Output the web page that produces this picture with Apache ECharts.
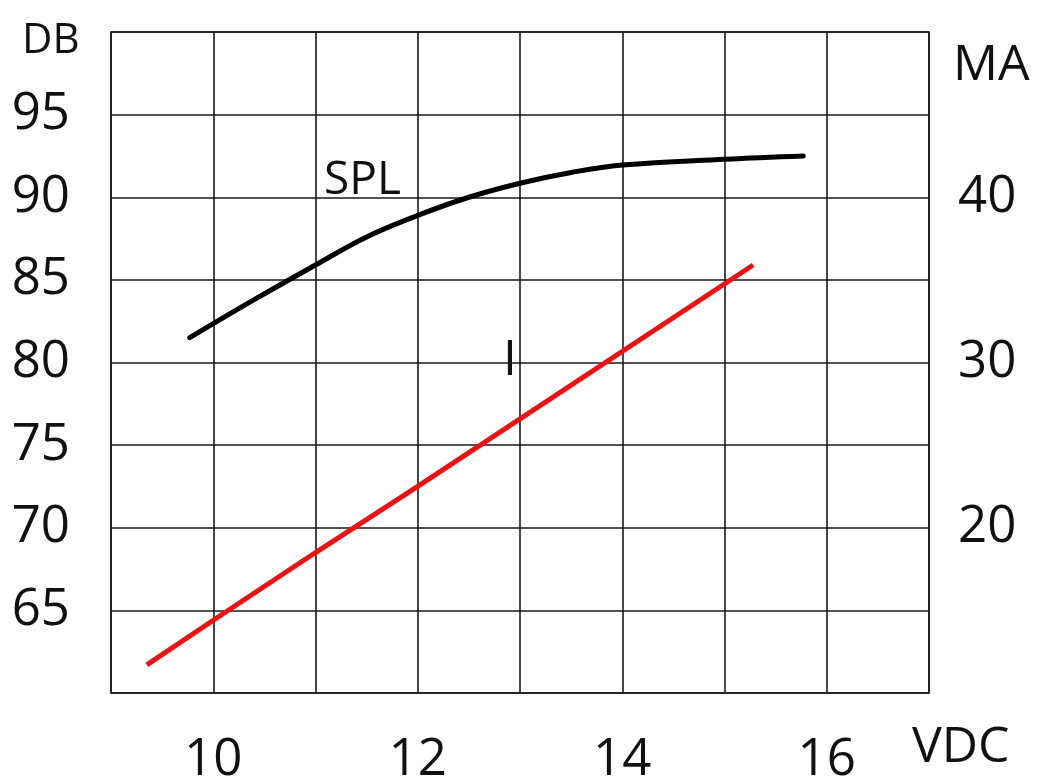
<!DOCTYPE html>
<html>
<head>
<meta charset="utf-8">
<script src="https://cdn.jsdelivr.net/npm/echarts@6/dist/echarts.min.js"></script>
<style>
html,body{margin:0;padding:0;background:#fff;}
#chart{width:1040px;height:778px;}
</style>
</head>
<body>
<div id="chart"></div>
<script>
// Voltage (VDC) vs SPL (dB)
const splVoltage = [9.77, 10.4, 11.0, 11.5, 12.0, 12.5, 13.0, 13.5, 14.0, 15.0, 15.77];
const splDb      = [81.5, 83.8, 85.9, 87.6, 88.9, 90.0, 90.85, 91.5, 91.95, 92.3, 92.5];
// Voltage (VDC) vs current (mA)
const curVoltage = [9.35, 10.0, 11.0, 12.0, 15.28];
const curMa      = [11.7, 14.4, 18.5, 22.5, 35.9];
// Tick labels shown
const xTickLabels = [10, 12, 14, 16];
const dbTickLabels = [65, 70, 75, 80, 85, 90, 95];
const maTickLabels = [20, 30, 40];
const axisTitles = { left: 'DB', right: 'MA', bottom: 'VDC' };
const seriesNames = { spl: 'SPL', cur: 'I' };

const FONT = 'Open Sans';
const chart = echarts.init(document.getElementById('chart'), null, {renderer: 'canvas'});
const gridLine = { show: true, lineStyle: { color: '#1a1a1a', width: 1.6 } };

chart.setOption({
  backgroundColor: '#ffffff',
  animation: false,
  grid: { left: 111, top: 32, width: 818, height: 661, outerBoundsMode: 'none', containLabel: false,
          show: true, borderColor: '#1a1a1a', borderWidth: 1.6, backgroundColor: 'transparent' },
  xAxis: {
    type: 'value', min: 9, max: 17, interval: 1,
    axisLine: { show: false }, axisTick: { show: false },
    splitLine: gridLine,
    axisLabel: {
      margin: 42, fontFamily: FONT, fontSize: 51, color: '#111',
      showMinLabel: true, showMaxLabel: true,
      formatter: v => xTickLabels.includes(v) ? String(v) : ''
    }
  },
  yAxis: [
    {
      type: 'value', min: 60, max: 100, interval: 5, position: 'left',
      axisLine: { show: false }, axisTick: { show: false },
      splitLine: gridLine,
      axisLabel: {
        margin: 41, fontFamily: FONT, fontSize: 51, color: '#111',
        formatter: v => dbTickLabels.includes(v) ? String(v) : ''
      }
    },
    {
      type: 'value', min: 10, max: 50, interval: 5, position: 'right',
      axisLine: { show: false }, axisTick: { show: false },
      splitLine: { show: false },
      axisLabel: {
        margin: 29, fontFamily: FONT, fontSize: 51, color: '#111', align: 'left',
        formatter: v => maTickLabels.includes(v) ? String(v) : ''
      }
    }
  ],
  series: [
    {
      name: seriesNames.spl, type: 'line', yAxisIndex: 0, smooth: 0.4, symbol: 'none',
      lineStyle: { color: '#000', width: 5, cap: 'round', join: 'round' },
      data: splVoltage.map((v, i) => [v, splDb[i]])
    },
    {
      name: seriesNames.cur, type: 'line', yAxisIndex: 1, symbol: 'none',
      lineStyle: { color: '#ee1111', width: 5 },
      data: curVoltage.map((v, i) => [v, curMa[i]])
    }
  ],
  graphic: [
    { type: 'text', left: 22, top: 20, style: { text: axisTitles.left, font: '42px "' + FONT + '"', fill: '#111' } },
    { type: 'text', left: 953, top: 41, style: { text: axisTitles.right, font: '50px "' + FONT + '"', fill: '#111' } },
    { type: 'text', left: 912, top: 723, style: { text: axisTitles.bottom, font: '50px "' + FONT + '"', fill: '#111' } },
    { type: 'text', left: 324, top: 158, style: { text: seriesNames.spl, font: '46px "' + FONT + '"', fill: '#111' } },
    { type: 'text', left: 503, top: 336, style: { text: seriesNames.cur, font: '50px "' + FONT + '"', fill: '#111' } }
  ]
});
</script>
</body>
</html>
